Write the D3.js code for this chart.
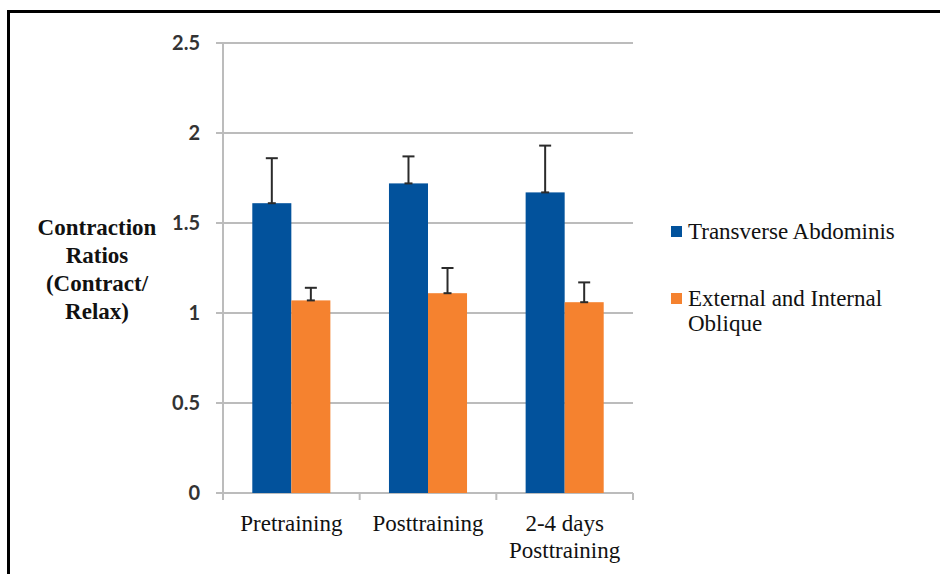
<!DOCTYPE html>
<html>
<head>
<meta charset="utf-8">
<script src="https://cdn.jsdelivr.net/npm/d3@7"></script>
<style>
  html, body { margin: 0; padding: 0; background: #fff; }
  svg { display: block; }
  .serif { font-family: "Liberation Serif", "DejaVu Serif", "Noto Serif", "Noto Serif CJK SC", "Tinos", "FreeSerif", "Times New Roman", Times, serif; }
</style>
</head>
<body>
<svg id="chart" width="940" height="574"></svg>
<script>
const categories = [["Pretraining"], ["Posttraining"], ["2-4 days", "Posttraining"]];
const seriesNames = ["Transverse Abdominis", "External and Internal Oblique"];
const legendLines = [["Transverse Abdominis"], ["External and Internal", "Oblique"]];
const transverseValues = [1.61, 1.72, 1.67];
const transverseErrors = [0.25, 0.15, 0.26];
const obliqueValues = [1.07, 1.11, 1.06];
const obliqueErrors = [0.07, 0.14, 0.11];
const yTicks = [0, 0.5, 1, 1.5, 2, 2.5];
const yTickLabels = ["0", "0.5", "1", "1.5", "2", "2.5"];
const yTitleLines = ["Contraction", "Ratios", "(Contract/", "Relax)"];
const colors = ["#02529c", "#f5822f"];

const series = [
  { name: seriesNames[0], values: transverseValues, errors: transverseErrors },
  { name: seriesNames[1], values: obliqueValues, errors: obliqueErrors }
];

const svg = d3.select("#chart");
const plot = { left: 223, right: 633, top: 43, bottom: 493 };

// frame (top + left border)
svg.append("line").attr("x1", 7.5).attr("x2", 940).attr("y1", 11.5).attr("y2", 11.5)
  .attr("stroke", "#000").attr("stroke-width", 3);
svg.append("line").attr("x1", 8.5).attr("x2", 8.5).attr("y1", 10).attr("y2", 574)
  .attr("stroke", "#000").attr("stroke-width", 3);

const catKeys = categories.map(c => c.join(" "));
const x0 = d3.scaleBand().domain(catKeys).range([plot.left, plot.right]).paddingInner(0).paddingOuter(0);
const x1 = d3.scaleBand().domain(seriesNames).range([29.3, x0.bandwidth() - 29.3]);
const y = d3.scaleLinear().domain([0, 2.5]).range([plot.bottom, plot.top]);

// gridlines
svg.append("g").selectAll("line").data(yTicks).join("line")
  .attr("x1", plot.left - 7).attr("x2", plot.right)
  .attr("y1", d => y(d)).attr("y2", d => y(d))
  .attr("stroke", "#bcbcbc").attr("stroke-width", 2);

// y axis line
svg.append("line").attr("x1", plot.left).attr("x2", plot.left)
  .attr("y1", plot.top).attr("y2", plot.bottom + 7)
  .attr("stroke", "#bcbcbc").attr("stroke-width", 2);

// x category ticks
const bounds = catKeys.map(k => x0(k) + x0.bandwidth());
svg.append("g").selectAll("line").data(bounds).join("line")
  .attr("x1", d => d).attr("x2", d => d)
  .attr("y1", plot.bottom).attr("y2", plot.bottom + 7)
  .attr("stroke", "#bcbcbc").attr("stroke-width", 2);

// y tick labels
svg.append("g").selectAll("text").data(yTicks).join("text")
  .attr("x", 200).attr("y", d => y(d))
  .attr("dy", "0.36em")
  .attr("text-anchor", "end")
  .attr("font-family", "Lato, 'Open Sans', sans-serif")
  .attr("font-size", 20)
  .attr("font-weight", 700)
  .attr("fill", "#333")
  .text((d, i) => yTickLabels[i]);

// bars
const groups = svg.append("g").selectAll("g").data(series).join("g")
  .attr("fill", (d, i) => colors[i]);
groups.selectAll("rect").data((s) => s.values.map((v, i) => ({ s: s.name, v, cat: catKeys[i] })))
  .join("rect")
  .attr("x", d => x0(d.cat) + x1(d.s))
  .attr("width", x1.bandwidth())
  .attr("y", d => y(d.v))
  .attr("height", d => y(0) - y(d.v));

// error bars
const errData = [];
series.forEach(s => s.values.forEach((v, i) => errData.push({ s: s.name, v, e: s.errors[i], cat: catKeys[i] })));
const eg = svg.append("g").attr("stroke", "#2b2b2b").attr("stroke-width", 2);
errData.forEach(d => {
  const cx = x0(d.cat) + x1(d.s) + x1.bandwidth() / 2;
  eg.append("line").attr("x1", cx).attr("x2", cx).attr("y1", y(d.v)).attr("y2", y(d.v + d.e));
  eg.append("line").attr("x1", cx - 6).attr("x2", cx + 6).attr("y1", y(d.v + d.e)).attr("y2", y(d.v + d.e));
  eg.append("line").attr("x1", cx - 4).attr("x2", cx + 4).attr("y1", y(d.v)).attr("y2", y(d.v));
});

// x labels
const xl = svg.append("g").attr("class", "serif").attr("font-size", 23).attr("fill", "#111")
  .attr("text-anchor", "middle");
categories.forEach((lines, i) => {
  const cx = x0(catKeys[i]) + x0.bandwidth() / 2;
  lines.forEach((t, j) => {
    xl.append("text").attr("class", "serif").attr("x", cx).attr("y", 531 + j * 27).text(t);
  });
});

// y title
const yt = svg.append("g").attr("class", "serif").attr("font-size", 23).attr("font-weight", 700)
  .attr("fill", "#111").attr("text-anchor", "middle");
yTitleLines.forEach((t, j) => {
  yt.append("text").attr("class", "serif").attr("x", 97).attr("y", 235 + j * 28).text(t);
});

// legend
const legendY = [226, 293];
const lg = svg.append("g").attr("class", "serif").attr("font-size", 23).attr("fill", "#111");
legendLines.forEach((lines, i) => {
  lg.append("rect").attr("x", 671).attr("y", legendY[i]).attr("width", 11).attr("height", 11).attr("fill", colors[i]);
  lines.forEach((t, j) => {
    lg.append("text").attr("class", "serif").attr("x", 688).attr("y", legendY[i] + 13 + j * 25).text(t);
  });
});
</script>
</body>
</html>
